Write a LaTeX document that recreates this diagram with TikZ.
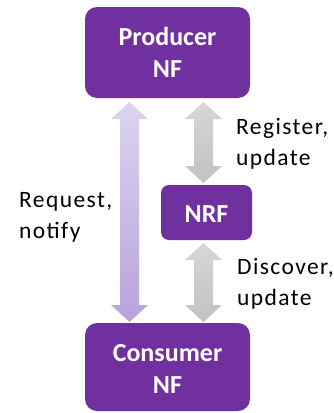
\documentclass[tikz,border=0pt]{standalone}
\usepackage{fontspec}
\setmainfont{Carlito}
\newfontfamily\lblfont[LetterSpace=6]{Carlito}
\definecolor{nfpurple}{HTML}{7030A0}
\definecolor{lavtop}{HTML}{DCD4EE}
\definecolor{lavbot}{HTML}{B8A3DB}
\definecolor{graytop}{HTML}{D6D6D6}
\definecolor{graybot}{HTML}{C2C2C2}
\begin{document}
\begin{tikzpicture}[x=1pt,y=-1pt,
  nfbox/.style={fill=nfpurple, rounded corners=12pt, text=white, font=\bfseries\fontsize{26}{32}\selectfont, align=center, inner sep=0pt},
  lbl/.style={font=\lblfont\fontsize{23.5}{31}\selectfont, align=left, anchor=base west, inner sep=0pt}]
\useasboundingbox (0,0) rectangle (334,413);
% boxes
\node[nfbox, minimum width=165pt, minimum height=91pt] (prod) at (167.5,52.5) {};
\node[nfbox, minimum width=165pt, minimum height=88pt] (cons) at (167.5,367) {};
\node[nfbox, rounded corners=8pt, minimum width=91pt, minimum height=55pt] (nrf) at (206.5,212.5) {};
\node[nfbox, fill=none, anchor=base] (prodt) at (167.5,77) {Producer\\NF};
\node[nfbox, fill=none, anchor=base] (const) at (167.5,393) {Consumer\\NF};
\node[nfbox, fill=none, anchor=base] (nrft) at (206.5,222) {NRF};
% arrows
\def\dblarrow#1#2#3#4#5#6{%
 \shade[top color=#5, bottom color=#6]
  (#1,#2) -- (#1+18.5,#2+17) -- (#1+9.5,#2+17) -- (#1+9.5,#3-17) -- (#1+18.5,#3-17)
  -- (#1,#3) -- (#1-18.5,#3-17) -- (#1-9.5,#3-17) -- (#1-9.5,#2+17) -- (#1-18.5,#2+17) -- cycle;}
\dblarrow{129.5}{102}{322}{}{lavtop}{lavbot}
\dblarrow{203.5}{102}{183}{}{graytop}{graybot}
\dblarrow{203.5}{243}{322}{}{graytop}{graybot}
% labels
\node[lbl] (l1) at (236,165) {Register,\\update};
\node[lbl] (l2) at (19,238) {Request,\\notify};
\node[lbl] (l3) at (237,305) {Discover,\\update};
\end{tikzpicture}
\end{document}
